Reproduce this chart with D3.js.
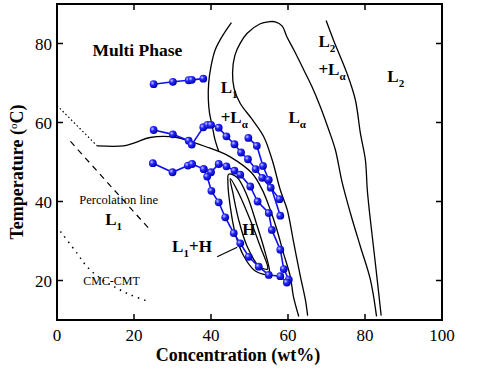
<!DOCTYPE html>
<html>
<head>
<meta charset="utf-8">
<script src="https://cdn.jsdelivr.net/npm/d3@7"></script>
<style>
body { margin: 0; background: #fff; }
text { font-family: "Liberation Serif", "Times New Roman", serif; }
</style>
</head>
<body>
<div id="chart"></div>
<script>
var WIDTH = 500, HEIGHT = 375;
var margin = {top: 4, right: 58, bottom: 55, left: 57};

// axis ticks
var xTicks = [0, 20, 40, 60, 80, 100];
var yTicks = [20, 40, 60, 80];

// blue measured series (wt%, degC)
var seriesA = [[25.1, 69.7], [30.1, 70.3], [34.2, 70.7], [35.0, 70.8], [38.0, 71.1]];
var seriesB = [[25.1, 58.1], [30.1, 57.0], [34.2, 55.4], [35.0, 54.4], [38.0, 58.8], [39.1, 59.4],
	[40.0, 59.4], [42.0, 58.7], [44.0, 56.5], [46.1, 54.5], [47.8, 52.4], [49.6, 50.7],
	[51.6, 48.2], [53.3, 46.0], [55.5, 43.5], [57.8, 40.6]];
var seriesC = [[24.9, 49.7], [30.0, 47.4], [34.0, 49.1], [35.1, 49.5], [38.1, 48.2], [40.0, 47.4],
	[42.0, 49.5], [44.0, 48.9], [46.1, 47.8], [47.6, 46.8], [50.2, 43.8], [52.1, 40.0],
	[55.0, 37.1], [55.8, 32.8], [58.0, 27.8], [58.9, 22.9], [60.2, 20.2]];
var seriesD = [[49.7, 56.1], [51.9, 54.1], [53.5, 49.0], [55.0, 45.5], [58.0, 36.4]];
var seriesE = [[38.1, 48.2], [39.0, 46.3], [40.1, 42.7], [42.0, 39.8], [43.7, 36.0], [45.9, 32.0],
	[47.6, 29.4], [49.8, 26.0], [52.4, 23.5], [55.0, 21.4], [58.0, 21.1], [59.7, 19.5]];
var blueSeries = [seriesA, seriesB, seriesC, seriesD, seriesE];

// phase boundaries
var l1LaLeft = [[45.3, 85.3], [42.9, 81.8], [41.1, 78.4], [40.0, 74.2], [39.4, 70.0], [39.3, 66.0],
	[39.6, 62.5], [40.3, 59.2], [41.0, 55.8], [42.0, 52.7]];
var multiPhase = [[10.4, 54.1], [17.3, 54.1], [20.3, 54.9], [24.2, 56.2], [31.2, 56.2], [34.6, 55.2],
	[38.9, 53.8], [42.0, 52.7], [45.0, 51.3], [50.6, 47.2], [53.3, 43.0], [55.4, 37.9],
	[57.1, 32.9], [58.8, 27.0], [60.6, 21.0], [61.4, 16.0], [62.8, 10.9]];
var laDome = [[65.1, 11.1], [64.5, 15.2], [63.2, 21.1], [61.5, 29.5], [59.8, 37.9], [58.0, 42.9],
	[55.9, 50.5], [53.7, 56.4], [50.6, 60.9], [47.6, 64.8], [46.0, 68.6], [45.6, 72.5],
	[46.2, 77.0], [47.6, 80.1], [49.4, 82.6], [52.8, 85.0], [55.0, 85.5], [56.7, 85.5],
	[58.5, 84.4], [59.7, 81.7], [61.5, 78.4], [64.1, 73.3], [66.2, 69.1], [68.4, 64.0],
	[70.6, 58.1], [72.3, 53.1], [74.0, 45.1], [76.2, 37.1], [78.8, 28.6], [81.4, 20.2], [83.0, 10.9]];
var l2La = [[69.9, 85.8], [71.8, 80.9], [75.3, 72.5], [77.5, 65.7], [78.8, 57.3], [80.1, 50.5],
	[80.6, 42.9], [81.2, 37.0], [82.7, 24.3], [84.2, 11.1]];
var hOuter = [[44.6, 46.9], [46.8, 46.1], [49.4, 41.4], [52.0, 33.8], [54.1, 27.0], [55.2, 22.4],
	[55.0, 21.5], [51.5, 22.4], [48.5, 26.2], [46.3, 31.9], [45.0, 38.7], [44.4, 44.6]];
var hInner = [[45.0, 45.8], [47.2, 42.1], [50.2, 35.3], [52.8, 28.6], [54.7, 22.9], [52.4, 23.7],
	[49.4, 28.6], [47.2, 35.3], [45.7, 42.1]];
var pointer = [[41.6, 26.0], [46.8, 28.4]];

// dashed / dotted guides
var dottedTop = [[0, 64.3], [10.4, 54.1]];
var percolation = [[3.5, 55.2], [24.2, 32.8]];
var cmcCmt = [[0.9, 32.4], [5.2, 26.9], [7.8, 23.5], [11.2, 20.6], [14.7, 18.5], [19.0, 16.4], [23.8, 14.7]];

// region labels: [x, y, main, sub, rest]
var phaseLabels = [
	[42.5, 67.5, "L", "1", ""],
	[42.5, 59.9, "+L", "\u03b1", ""],
	[60.1, 59.9, "L", "\u03b1", ""],
	[67.9, 79.2, "L", "2", ""],
	[67.9, 72.1, "+L", "\u03b1", ""],
	[85.8, 70.3, "L", "2", ""],
	[48.1, 31.6, "H", "", ""],
	[29.9, 27.3, "L", "1", "+H"],
	[12.5, 34.1, "L", "1", ""]
];

var plotW = WIDTH - margin.left - margin.right;
var plotH = HEIGHT - margin.top - margin.bottom;

var x = d3.scaleLinear().domain([0, 100]).range([0, plotW]);
var y = d3.scaleLinear().domain([10, 90]).range([plotH, 0]);

var svg = d3.select("#chart").append("svg")
	.attr("width", WIDTH)
	.attr("height", HEIGHT);

var defs = svg.append("defs");
var grad = defs.append("radialGradient")
	.attr("id", "ball")
	.attr("cx", "35%").attr("cy", "35%").attr("r", "65%");
grad.append("stop").attr("offset", "0%").attr("stop-color", "#c8ceff");
grad.append("stop").attr("offset", "40%").attr("stop-color", "#2a2aff");
grad.append("stop").attr("offset", "100%").attr("stop-color", "#0000b4");

defs.append("clipPath").attr("id", "clip")
	.append("rect").attr("width", plotW).attr("height", plotH);

var g = svg.append("g")
	.attr("transform", `translate(${margin.left},${margin.top})`);

var straightLine = d3.line().x(d => x(d[0])).y(d => y(d[1]));
var smoothLine = d3.line().x(d => x(d[0])).y(d => y(d[1])).curve(d3.curveCatmullRom);
var loopLine = d3.line().x(d => x(d[0])).y(d => y(d[1])).curve(d3.curveCatmullRomClosed);

var curves = g.append("g").attr("clip-path", "url(#clip)")
	.attr("fill", "none").attr("stroke", "#000");

[l1LaLeft, multiPhase, laDome, l2La].forEach(function(d) {
	curves.append("path").attr("d", smoothLine(d)).attr("stroke-width", 1.3);
});
[hOuter, hInner].forEach(function(d) {
	curves.append("path").attr("d", loopLine(d)).attr("stroke-width", 1.3);
});
curves.append("path").attr("d", straightLine(pointer)).attr("stroke-width", 1.2);

curves.append("path").attr("d", straightLine(dottedTop))
	.attr("stroke-width", 1.2).attr("stroke-dasharray", "1.5,2.5");
curves.append("path").attr("d", straightLine(percolation))
	.attr("stroke-width", 1.2).attr("stroke-dasharray", "6,5");
curves.append("path").attr("d", smoothLine(cmcCmt))
	.attr("stroke-width", 1.5).attr("stroke-dasharray", "1.5,5");

// blue series
var blue = g.append("g");
blueSeries.forEach(function(s) {
	blue.append("path").attr("d", straightLine(s))
		.attr("fill", "none").attr("stroke", "#1010f4").attr("stroke-width", 1.6);
});
blueSeries.forEach(function(s) {
	blue.selectAll(null).data(s).join("circle")
		.attr("cx", d => x(d[0]))
		.attr("cy", d => y(d[1]))
		.attr("r", 3.9)
		.attr("fill", "url(#ball)");
});

// frame and ticks
g.append("rect").attr("width", plotW).attr("height", plotH)
	.attr("fill", "none").attr("stroke", "#000").attr("stroke-width", 2);

var tickLen = 6;
g.selectAll(".xt").data(xTicks.slice(1, -1)).join("path")
	.attr("d", d => `M${x(d)},${plotH}v${-tickLen}M${x(d)},0v${tickLen}`)
	.attr("stroke", "#000").attr("stroke-width", 1.5);
g.selectAll(".yt").data(yTicks).join("path")
	.attr("d", d => `M0,${y(d)}h${tickLen}M${plotW},${y(d)}h${-tickLen}`)
	.attr("stroke", "#000").attr("stroke-width", 1.5);

g.selectAll(".xl").data(xTicks).join("text")
	.attr("x", d => x(d)).attr("y", plotH + 21)
	.attr("text-anchor", "middle")
	.style("font-size", "17px")
	.text(d => d);
g.selectAll(".yl").data(yTicks).join("text")
	.attr("x", -5).attr("y", d => y(d) + 6)
	.attr("text-anchor", "end")
	.style("font-size", "17px")
	.text(d => d);

// axis titles
svg.append("text")
	.attr("x", 238).attr("y", 361)
	.attr("text-anchor", "middle")
	.style("font-size", "18px").style("font-weight", "bold")
	.text("Concentration (wt%)");

var yt = svg.append("text")
	.attr("transform", "translate(23,172) rotate(-90)")
	.attr("text-anchor", "middle")
	.style("font-size", "18px").style("font-weight", "bold");
yt.append("tspan").text("Temperature (");
yt.append("tspan").attr("baseline-shift", "super").style("font-size", "11px")
	.style("font-weight", "normal").text("o");
yt.append("tspan").text("C)");

// region labels
g.append("text")
	.attr("x", x(9.2)).attr("y", y(76.9))
	.style("font-size", "17.5px").style("font-weight", "bold")
	.text("Multi Phase");

phaseLabels.forEach(function(l) {
	var t = g.append("text")
		.attr("x", x(l[0])).attr("y", y(l[1]))
		.style("font-size", "17px").style("font-weight", "bold");
	t.append("tspan").text(l[2]);
	if (l[3]) {
		t.append("tspan").attr("dy", 5).style("font-size", "11px").text(l[3]);
	}
	if (l[4]) {
		t.append("tspan").attr("dy", -5).text(l[4]);
	}
});

g.append("text")
	.attr("x", x(5.8)).attr("y", y(39.4))
	.style("font-size", "12.5px")
	.text("Percolation line");
g.append("text")
	.attr("x", x(6.8)).attr("y", y(18.9))
	.style("font-size", "12px")
	.text("CMC-CMT");
</script>
</body>
</html>
